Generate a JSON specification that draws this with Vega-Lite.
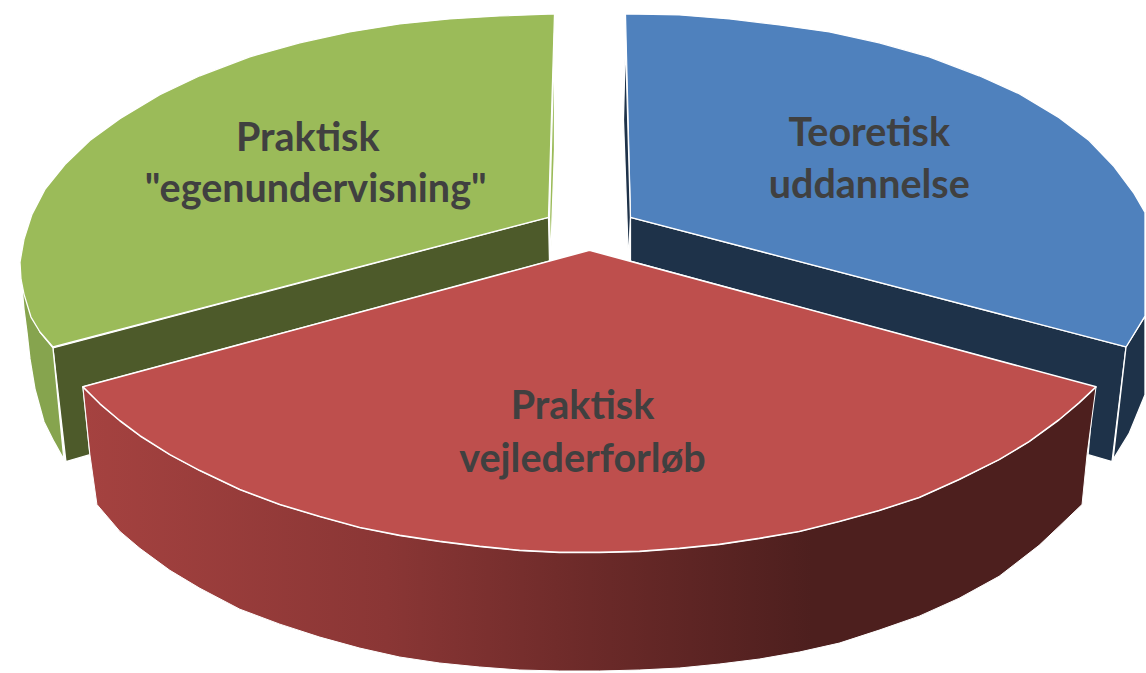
{"$schema":"https://vega.github.io/schema/vega-lite/v6.json","width":1146,"height":673,"autosize":{"type":"fit","contains":"padding"},"padding":0,"background":"white","view":{"stroke":null},
"datasets":{
"back":[
{"face":"gd","i":1,"x":53,"y":349},{"face":"gd","i":2,"x":549,"y":218},{"face":"gd","i":3,"x":550,"y":262},{"face":"gd","i":4,"x":83,"y":388},{"face":"gd","i":5,"x":90,"y":456},{"face":"gd","i":6,"x":66,"y":463},
{"face":"gs","i":1,"x":22,"y":287},{"face":"gs","i":2,"x":24,"y":310},{"face":"gs","i":3,"x":27,"y":333},{"face":"gs","i":4,"x":30,"y":360},{"face":"gs","i":5,"x":35,"y":390},{"face":"gs","i":6,"x":44,"y":423},{"face":"gs","i":7,"x":54,"y":443},{"face":"gs","i":8,"x":64,"y":461},{"face":"gs","i":9,"x":53,"y":349},{"face":"gs","i":10,"x":40,"y":333},
{"face":"gt","i":1,"x":555,"y":14},{"face":"gt","i":2,"x":500,"y":16},{"face":"gt","i":3,"x":450,"y":19},{"face":"gt","i":4,"x":400,"y":24},{"face":"gt","i":5,"x":350,"y":32},{"face":"gt","i":6,"x":300,"y":43},{"face":"gt","i":7,"x":250,"y":57},{"face":"gt","i":8,"x":200,"y":76},{"face":"gt","i":9,"x":160,"y":95},{"face":"gt","i":10,"x":120,"y":119},{"face":"gt","i":11,"x":90,"y":141},{"face":"gt","i":12,"x":65,"y":165},{"face":"gt","i":13,"x":45,"y":190},{"face":"gt","i":14,"x":32,"y":215},{"face":"gt","i":15,"x":24,"y":240},{"face":"gt","i":16,"x":20,"y":263},{"face":"gt","i":17,"x":21,"y":280},{"face":"gt","i":18,"x":24,"y":295},{"face":"gt","i":19,"x":31,"y":318},{"face":"gt","i":20,"x":40,"y":333},{"face":"gt","i":21,"x":53,"y":348},{"face":"gt","i":22,"x":549,"y":218},
{"face":"gv","i":1,"x":555,"y":33},{"face":"gv","i":2,"x":555,"y":150},{"face":"gv","i":3,"x":551,"y":262},{"face":"gv","i":4,"x":550,"y":218},
{"face":"bd","i":1,"x":631,"y":218},{"face":"bd","i":2,"x":1127,"y":348},{"face":"bd","i":3,"x":1113,"y":463},{"face":"bd","i":4,"x":1089,"y":456},{"face":"bd","i":5,"x":1095,"y":388},{"face":"bd","i":6,"x":631,"y":262},
{"face":"bs","i":1,"x":1127,"y":348},{"face":"bs","i":2,"x":1146,"y":317},{"face":"bs","i":3,"x":1146,"y":396},{"face":"bs","i":4,"x":1130,"y":435},{"face":"bs","i":5,"x":1114,"y":461},
{"face":"bt","i":1,"x":626,"y":14},{"face":"bt","i":2,"x":680,"y":15},{"face":"bt","i":3,"x":730,"y":19},{"face":"bt","i":4,"x":780,"y":25},{"face":"bt","i":5,"x":830,"y":32},{"face":"bt","i":6,"x":880,"y":43},{"face":"bt","i":7,"x":930,"y":57},{"face":"bt","i":8,"x":980,"y":76},{"face":"bt","i":9,"x":1020,"y":94},{"face":"bt","i":10,"x":1060,"y":118},{"face":"bt","i":11,"x":1090,"y":141},{"face":"bt","i":12,"x":1115,"y":167},{"face":"bt","i":13,"x":1135,"y":194},{"face":"bt","i":14,"x":1146,"y":213},{"face":"bt","i":15,"x":1146,"y":317},{"face":"bt","i":16,"x":1127,"y":348},{"face":"bt","i":17,"x":631,"y":218},
{"face":"bv","i":1,"x":626,"y":40},{"face":"bv","i":2,"x":624,"y":120},{"face":"bv","i":3,"x":629,"y":262},{"face":"bv","i":4,"x":631,"y":218}
],
"redSide":[
{"i":1,"x":83,"y":388},{"i":2,"x":100,"y":405},{"i":3,"x":120,"y":422},{"i":4,"x":140,"y":437},{"i":5,"x":170,"y":456},{"i":6,"x":200,"y":472},{"i":7,"x":240,"y":491},{"i":8,"x":280,"y":506},{"i":9,"x":320,"y":518},{"i":10,"x":360,"y":529},{"i":11,"x":400,"y":537},{"i":12,"x":440,"y":543},{"i":13,"x":480,"y":548},{"i":14,"x":520,"y":552},{"i":15,"x":560,"y":554},{"i":16,"x":600,"y":554},{"i":17,"x":640,"y":553},{"i":18,"x":680,"y":550},{"i":19,"x":720,"y":546},{"i":20,"x":760,"y":540},{"i":21,"x":800,"y":533},{"i":22,"x":840,"y":523},{"i":23,"x":880,"y":512},{"i":24,"x":920,"y":499},{"i":25,"x":960,"y":481},{"i":26,"x":1000,"y":461},{"i":27,"x":1030,"y":443},{"i":28,"x":1060,"y":421},{"i":29,"x":1080,"y":404},{"i":30,"x":1097,"y":388},{"i":31,"x":1088,"y":456},{"i":32,"x":1083,"y":506},{"i":33,"x":1060,"y":528},{"i":34,"x":1040,"y":547},{"i":35,"x":1000,"y":578},{"i":36,"x":960,"y":600},{"i":37,"x":920,"y":618},{"i":38,"x":880,"y":632},{"i":39,"x":840,"y":645},{"i":40,"x":800,"y":654},{"i":41,"x":760,"y":661},{"i":42,"x":720,"y":666},{"i":43,"x":680,"y":670},{"i":44,"x":640,"y":672},{"i":45,"x":600,"y":673},{"i":46,"x":560,"y":673},{"i":47,"x":520,"y":672},{"i":48,"x":480,"y":669},{"i":49,"x":440,"y":665},{"i":50,"x":400,"y":659},{"i":51,"x":360,"y":650},{"i":52,"x":320,"y":639},{"i":53,"x":280,"y":626},{"i":54,"x":240,"y":611},{"i":55,"x":200,"y":590},{"i":56,"x":170,"y":572},{"i":57,"x":140,"y":550},{"i":58,"x":120,"y":533},{"i":59,"x":97,"y":506},{"i":60,"x":90,"y":456}
],
"redTop":[
{"i":1,"x":590,"y":251},{"i":2,"x":1097,"y":388},{"i":3,"x":1080,"y":404},{"i":4,"x":1060,"y":421},{"i":5,"x":1030,"y":443},{"i":6,"x":1000,"y":461},{"i":7,"x":960,"y":481},{"i":8,"x":920,"y":499},{"i":9,"x":880,"y":512},{"i":10,"x":840,"y":523},{"i":11,"x":800,"y":533},{"i":12,"x":760,"y":540},{"i":13,"x":720,"y":546},{"i":14,"x":680,"y":550},{"i":15,"x":640,"y":553},{"i":16,"x":600,"y":554},{"i":17,"x":560,"y":554},{"i":18,"x":520,"y":552},{"i":19,"x":480,"y":548},{"i":20,"x":440,"y":543},{"i":21,"x":400,"y":537},{"i":22,"x":360,"y":529},{"i":23,"x":320,"y":518},{"i":24,"x":280,"y":506},{"i":25,"x":240,"y":491},{"i":26,"x":200,"y":472},{"i":27,"x":170,"y":456},{"i":28,"x":140,"y":437},{"i":29,"x":120,"y":422},{"i":30,"x":100,"y":405},{"i":31,"x":83,"y":388}
],
"labels":[
{"t":"Praktisk","x":308,"y":139},{"t":"\"egenundervisning\"","x":316,"y":191},
{"t":"Teoretisk","x":870,"y":134},{"t":"uddannelse","x":870,"y":187},
{"t":"Praktisk","x":583,"y":408},{"t":"vejlederforløb","x":583,"y":461}
]},
"encoding":{
"x":{"field":"x","type":"quantitative","axis":null,"scale":{"domain":[0,1146],"nice":false,"zero":false}},
"y":{"field":"y","type":"quantitative","axis":null,"scale":{"domain":[673,0],"nice":false,"zero":false}}
},
"layer":[
{"data":{"name":"back"},"mark":{"type":"line","interpolate":"linear-closed","stroke":"#ffffff","strokeWidth":1.3,"strokeJoin":"round"},
"encoding":{"order":{"field":"i","type":"quantitative"},"fill":{"field":"face","type":"nominal","legend":null,"scale":{"domain":["bd","bs","bt","bv","gd","gs","gt","gv"],"range":["#1e3249","#1e3249","#4f81bd","#1e3249","#4d5a2a","#86a44e","#9bbb59","#9bbb59"]}}}},
{"data":{"name":"redSide"},"mark":{"type":"line","interpolate":"linear-closed","stroke":"#ffffff","strokeWidth":1,"fill":{"gradient":"linear","x1":0,"y1":0,"x2":1,"y2":0,"stops":[{"offset":0,"color":"#a54240"},{"offset":0.3,"color":"#8a3635"},{"offset":0.5,"color":"#6c2a29"},{"offset":0.72,"color":"#4d1f1e"},{"offset":1,"color":"#4d1f1e"}]}},
"encoding":{"order":{"field":"i","type":"quantitative"}}},
{"data":{"name":"redTop"},"mark":{"type":"line","interpolate":"linear-closed","stroke":"#ffffff","strokeWidth":1.6,"strokeJoin":"round","fill":"#be4f4d"},
"encoding":{"order":{"field":"i","type":"quantitative"}}},
{"data":{"name":"labels"},"mark":{"type":"text","font":"Lato","fontWeight":"bold","fontSize":39.5,"color":"#404040","align":"center","baseline":"middle"},
"encoding":{"text":{"field":"t","type":"nominal"}}}
]}
